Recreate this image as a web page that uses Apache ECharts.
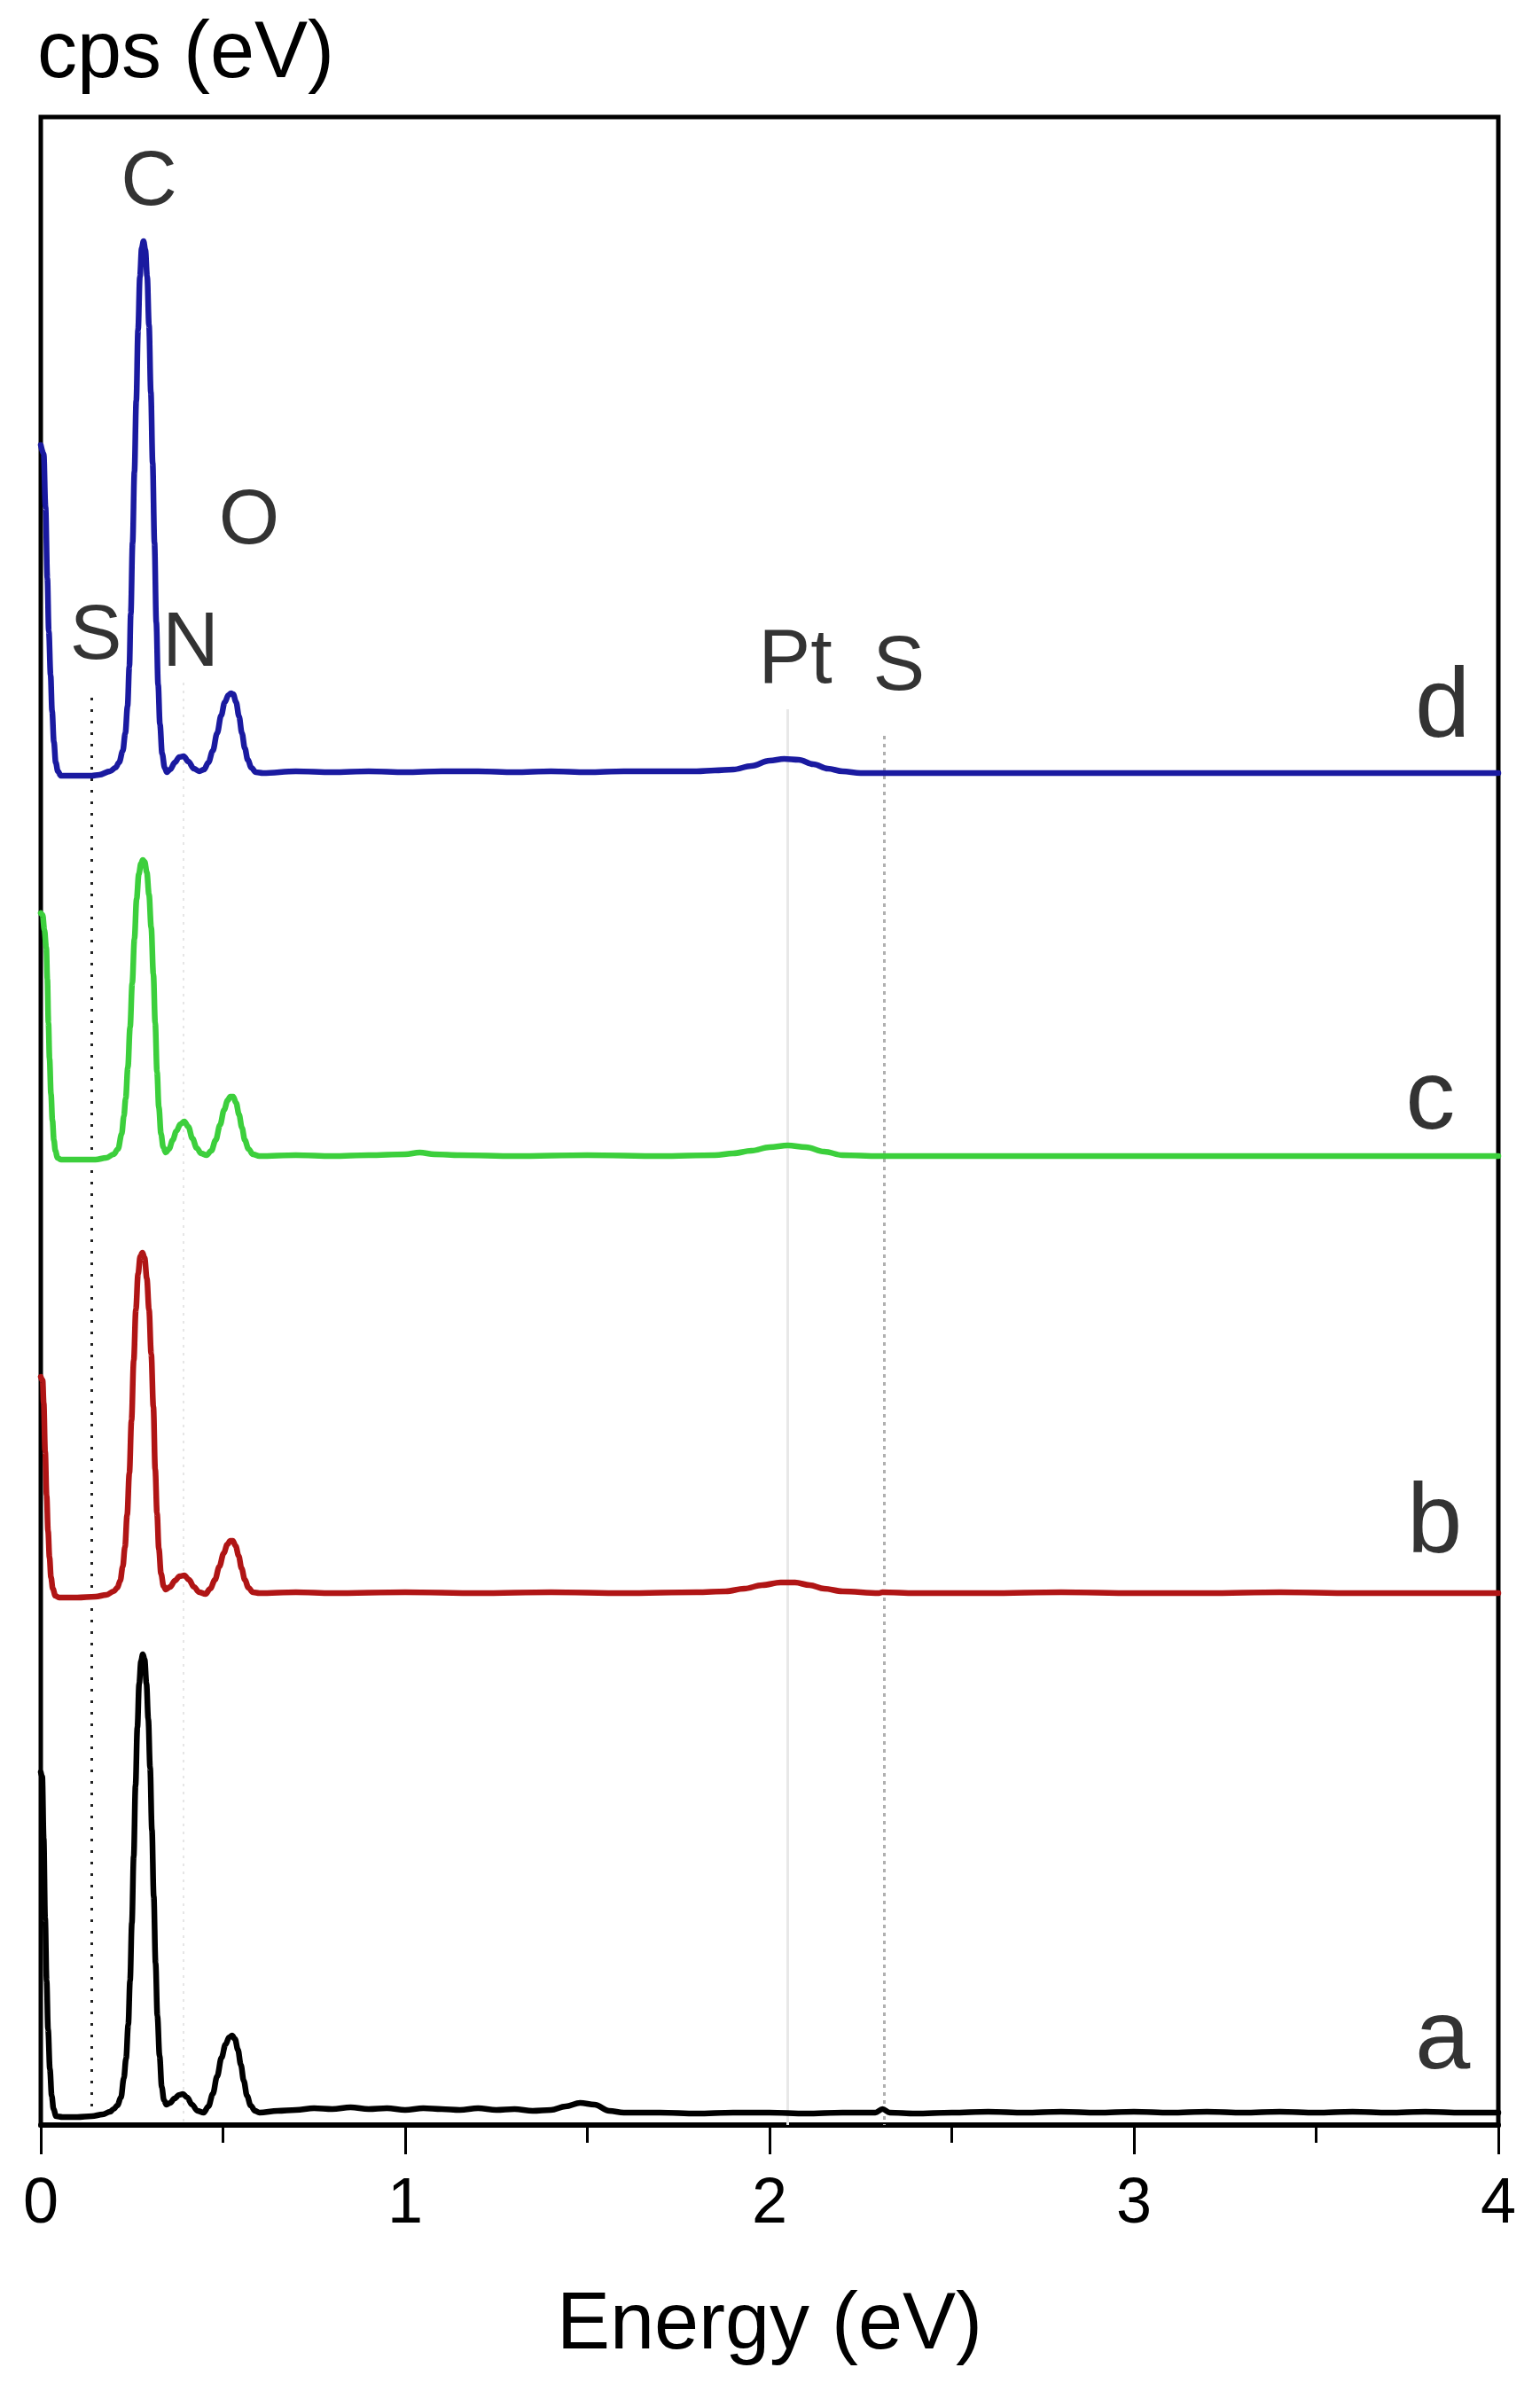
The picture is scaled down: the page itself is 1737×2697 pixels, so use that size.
<!DOCTYPE html>
<html>
<head>
<meta charset="utf-8">
<script src="https://cdn.jsdelivr.net/npm/echarts@6/dist/echarts.min.js"></script>
<style>
  html, body { margin: 0; padding: 0; background: #ffffff; }
  #chart { width: 1737px; height: 2697px; }
</style>
</head>
<body>
<div id="chart"></div>
<script>
// ---------- DATA (energies in eV, counts in arbitrary cps units above each trace's own baseline) ----------
const xTicks = [0, 1, 2, 3, 4];

// Baseline offsets of the stacked spectra (arbitrary cps units)
const offsetA = 13;
const offsetB = 600;
const offsetC = 1093;
const offsetD = 1525;

// Spectrum a (black)
const energyA = [0,0.004,0.008,0.012,0.016,0.020,0.025,0.030,0.035,0.042,0.06,0.10,0.14,0.17,0.19,0.20,0.21,0.22,0.228,0.234,0.240,0.245,0.250,0.255,0.260,0.265,0.270,0.275,0.280,0.285,0.290,0.295,0.300,0.305,0.310,0.315,0.320,0.326,0.332,0.338,0.345,0.355,0.367,0.380,0.390,0.402,0.415,0.430,0.447,0.460,0.472,0.484,0.496,0.507,0.517,0.525,0.533,0.541,0.549,0.557,0.566,0.576,0.588,0.60,0.65,0.70,0.75,0.80,0.85,0.90,0.95,1.00,1.05,1.10,1.15,1.20,1.25,1.30,1.35,1.40,1.44,1.48,1.52,1.56,1.60,1.70,1.80,1.90,2.00,2.10,2.20,2.29,2.31,2.33,2.40,2.50,2.60,2.70,2.80,2.90,3.00,3.10,3.20,3.30,3.40,3.50,3.60,3.70,3.80,3.90,4.00];
const countsA = [385,380,310,220,150,95,50,20,5,-3,-4,-4,-3,-1,2,5,9,18,40,62,100,150,215,290,370,435,485,510,518,512,485,445,390,320,245,170,110,65,30,15,10,12,17,21,22,18,10,3,1,8,22,42,63,78,86,88,84,72,55,37,20,9,3,1,3,4,6,5,7,5,6,4,6,5,4,6,4,5,3,4,8,12,10,3,1,1,0,1,1,0,1,1,5,1,0,1,2,1,2,1,2,1,2,1,2,1,2,1,2,1,1];

// Spectrum b (red)
const energyB = [0,0.005,0.008,0.012,0.016,0.020,0.024,0.028,0.033,0.040,0.05,0.10,0.15,0.18,0.20,0.21,0.218,0.225,0.231,0.237,0.243,0.249,0.255,0.261,0.267,0.273,0.279,0.285,0.291,0.297,0.303,0.309,0.314,0.319,0.324,0.330,0.337,0.343,0.355,0.368,0.381,0.394,0.407,0.420,0.435,0.452,0.465,0.478,0.490,0.502,0.512,0.520,0.527,0.535,0.543,0.551,0.560,0.570,0.582,0.60,0.70,0.80,1.00,1.20,1.40,1.60,1.80,1.88,1.93,1.98,2.03,2.07,2.11,2.15,2.20,2.30,2.31,2.40,2.60,2.80,3.00,3.20,3.40,3.60,3.80,4.00];
const countsB = [244,240,215,160,110,70,40,18,5,-3,-5,-5,-4,-2,2,6,14,30,52,88,135,195,262,320,360,380,384,378,355,320,270,210,140,90,50,22,8,4,7,14,19,20,15,7,1,-1,5,15,30,45,55,59,59,53,42,28,15,6,1,0,1,0,1,0,1,0,1,2,5,9,12,12,9,5,2,0,1,0,0,1,0,0,1,0,0,0];

// Spectrum c (green)
const energyC = [0,0.005,0.010,0.015,0.018,0.021,0.024,0.028,0.032,0.036,0.040,0.046,0.055,0.10,0.15,0.18,0.20,0.212,0.222,0.228,0.233,0.239,0.245,0.251,0.257,0.263,0.269,0.275,0.280,0.285,0.291,0.297,0.303,0.309,0.314,0.319,0.324,0.330,0.336,0.343,0.352,0.362,0.372,0.383,0.394,0.405,0.416,0.428,0.440,0.455,0.468,0.480,0.492,0.503,0.513,0.520,0.528,0.536,0.544,0.552,0.560,0.570,0.582,0.60,0.70,0.80,0.90,1.00,1.04,1.08,1.15,1.30,1.50,1.70,1.85,1.90,1.95,2.00,2.05,2.10,2.15,2.20,2.30,2.50,3.00,3.50,4.00];
const countsC = [274,272,255,235,200,150,110,70,40,18,6,-2,-4,-4,-4,-2,2,8,25,45,65,100,145,195,245,290,318,330,334,332,320,295,258,205,150,95,55,25,10,4,8,18,28,36,39,33,20,9,3,1,6,18,35,52,63,67,67,60,47,32,18,8,2,0,1,0,1,2,4,2,1,0,1,0,1,3,6,10,12,10,5,1,0,0,0,0,0];

// Spectrum d (blue)
const energyD = [0,0.008,0.013,0.018,0.022,0.027,0.031,0.036,0.041,0.047,0.055,0.10,0.14,0.16,0.19,0.205,0.215,0.225,0.232,0.238,0.243,0.247,0.252,0.257,0.262,0.267,0.272,0.277,0.282,0.287,0.292,0.297,0.302,0.307,0.312,0.317,0.322,0.327,0.333,0.340,0.346,0.355,0.368,0.380,0.392,0.405,0.420,0.435,0.448,0.460,0.472,0.484,0.495,0.505,0.515,0.522,0.528,0.536,0.544,0.552,0.560,0.568,0.578,0.590,0.61,0.70,0.80,0.90,1.00,1.10,1.20,1.30,1.40,1.50,1.60,1.70,1.80,1.85,1.90,1.95,2.00,2.04,2.08,2.12,2.16,2.20,2.25,2.30,2.40,2.60,2.80,3.00,3.20,3.40,3.60,3.80,4.00];
const countsD = [370,360,300,220,160,110,70,35,12,2,-3,-3,-3,-2,2,6,12,25,45,75,120,180,260,340,420,500,560,592,600,590,560,505,430,350,260,170,100,55,22,6,1,4,12,18,19,13,5,2,4,12,25,45,65,80,88,90,89,80,64,45,28,15,6,1,0,2,1,2,1,2,2,1,2,1,2,2,2,3,4,8,14,16,15,10,5,2,0,0,0,0,0,0,0,0,0,0,0];

// Element markers (energy in eV, top of the guide line in cps units)
const guideEnergies = [0.14, 0.39, 2.05, 2.315];
const guideTops = [1610, 1627, 1597, 1567];

// Peak annotations: text, energy, height
const peakTexts = ['C', 'O', 'S', 'N', 'Pt', 'S'];
const peakE = [0.297, 0.572, 0.151, 0.411, 2.071, 2.355];
const peakV = [2190, 1808, 1678, 1670, 1651, 1643];

// Trace labels
const traceTexts = ['d', 'c', 'b', 'a'];
const traceE = [3.847, 3.813, 3.825, 3.847];
const traceV = [1597, 1155, 677, 95];

const yMax = 2265;

// ---------- BUILD ----------
function build(energy, counts, offset) {
  return energy.map((e, i) => [e, offset + counts[i]]);
}

const guideStyles = [
  { color: '#222', width: 3, type: [3, 10] },
  { color: '#e6e6e6', width: 2, type: [3, 6] },
  { color: '#e8e8e8', width: 3, type: 'solid' },
  { color: '#b0b0b0', width: 3, type: [4, 5] }
];

const guideData = guideEnergies.map((e, i) => [
  { coord: [e, guideTops[i]], lineStyle: guideStyles[i] },
  { coord: [e, 0] }
]);

const FONT = '"Liberation Sans", Arial, sans-serif';

function lineSeries(name, data, color, z) {
  return {
    name, type: 'line', data,
    showSymbol: false, symbol: 'none',
    smooth: 0.35, smoothMonotone: 'x',
    lineStyle: { color, width: 6.5, join: 'round', cap: 'round' },
    z, silent: true, animation: false
  };
}

const chart = echarts.init(document.getElementById('chart'), null, { renderer: 'canvas' });

chart.setOption({
  backgroundColor: '#ffffff',
  animation: false,
  grid: {
    left: 46, right: 47, top: 132, bottom: 300,
    show: true, borderColor: '#000', borderWidth: 5, backgroundColor: 'transparent'
  },
  xAxis: {
    type: 'value', min: xTicks[0], max: xTicks[xTicks.length - 1], interval: 1,
    name: 'Energy (eV)', nameLocation: 'middle', nameGap: 182,
    nameTextStyle: { fontSize: 90, fontFamily: FONT, color: '#000' },
    axisLine: { show: true, onZero: false, lineStyle: { color: '#000', width: 6 } },
    axisTick: { show: true, inside: false, length: 33, lineStyle: { color: '#000', width: 3 } },
    minorTick: { show: true, splitNumber: 2, length: 20, lineStyle: { color: '#000', width: 3 } },
    axisLabel: { fontSize: 72, fontFamily: FONT, color: '#000', margin: 54,
      formatter: v => String(v) },
    splitLine: { show: false }, minorSplitLine: { show: false }
  },
  yAxis: {
    type: 'value', min: 0, max: yMax,
    name: 'cps (eV)', nameLocation: 'end', nameGap: 70,
    nameTextStyle: { fontSize: 90, fontFamily: FONT, color: '#000', align: 'left', verticalAlign: 'middle', padding: [0, 0, 0, -4] },
    axisLine: { show: false }, axisTick: { show: false }, axisLabel: { show: false },
    splitLine: { show: false }
  },
  series: [
    {
      name: 'guides', type: 'line', data: [], z: 1, silent: true,
      markLine: { silent: true, symbol: ['none', 'none'], label: { show: false }, animation: false, data: guideData }
    },
    lineSeries('a', build(energyA, countsA, offsetA), '#000000', 5),
    lineSeries('b', build(energyB, countsB, offsetB), '#b01515', 5),
    lineSeries('c', build(energyC, countsC, offsetC), '#3ccf3c', 5),
    lineSeries('d', build(energyD, countsD, offsetD), '#1a1aa0', 5),
    {
      name: 'peaks', type: 'scatter', symbolSize: 0, silent: true, z: 10,
      data: peakE.map((e, i) => ({ value: [e, peakV[i]], name: peakTexts[i] })),
      label: { show: true, position: 'inside', formatter: p => p.name,
        fontSize: 88, fontFamily: FONT, color: '#000', align: 'center', verticalAlign: 'middle' }
    },
    {
      name: 'traces', type: 'scatter', symbolSize: 0, silent: true, z: 10,
      data: traceE.map((e, i) => ({ value: [e, traceV[i]], name: traceTexts[i] })),
      label: { show: true, position: 'inside', formatter: p => p.name,
        fontSize: 112, fontFamily: FONT, color: '#000', align: 'center', verticalAlign: 'middle' }
    }
  ]
});
</script>
</body>
</html>
